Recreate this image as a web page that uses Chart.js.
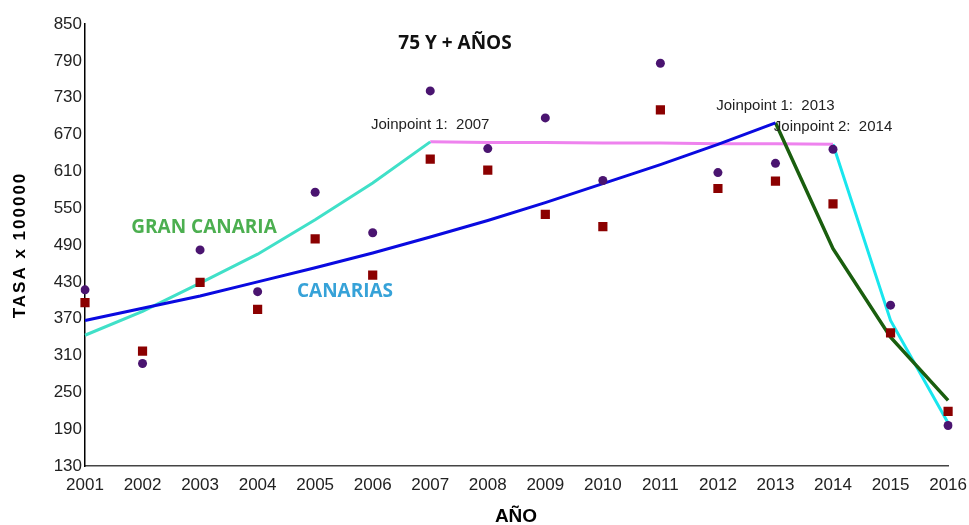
<!DOCTYPE html>
<html>
<head>
<meta charset="utf-8">
<script src="https://cdn.jsdelivr.net/npm/chart.js@4.4.0/dist/chart.umd.min.js"></script>
<style>
  html, body { margin: 0; padding: 0; background: #fff; }
  #wrap { width: 969px; height: 525px; }
</style>
</head>
<body>
<div id="wrap"><canvas class="mychart"></canvas></div>
<script>
// años
var years = ["2001","2002","2003","2004","2005","2006","2007","2008","2009","2010","2011","2012","2013","2014","2015","2016"];
// tasas observadas
var canariasObs = [417, 297, 482, 414, 576, 510, 741, 647, 697, 595, 786, 608, 623, 646, 392, 196];
var granCanariaObs = [396, 317, 429, 385, 500, 441, 630, 612, 540, 520, 710, 582, 594, 557, 347, 219];
// tendencias joinpoint
var blueTrend = [367, 387, 407, 430, 453, 477, 503, 530, 559, 590, 621, 654, 689, null, null, null];
var greenTrend = [null, null, null, null, null, null, null, null, null, null, null, null, 689, 484, 340, 237];
var turqTrend = [343, 382, 428, 475, 531, 591, 658, null, null, null, null, null, null, null, null, null];
var pinkTrend = [null, null, null, null, null, null, 658, 657, 657, 656, 656, 655, 655, 654, null, null];
var cyanTrend = [null, null, null, null, null, null, null, null, null, null, null, null, null, 654, 367, 200];
var yTicks = [130, 190, 250, 310, 370, 430, 490, 550, 610, 670, 730, 790, 850];

var notes = [
  { text: "Joinpoint 1:  2007", year: "2007", val: 658 },
  { text: "Joinpoint 1:  2013", year: "2013", val: 689 },
  { text: "Joinpoint 2:  2014", year: "2014", val: 654 }
];

function trend(data, color, w) {
  return {
    data: data,
    borderColor: color,
    borderWidth: w,
    pointRadius: 0,
    fill: false,
    tension: 0,
    spanGaps: false
  };
}

var textPlugin = {
  id: "texts",
  afterDraw: function(chart) {
    var c = chart.ctx;
    var xs = chart.scales.x, ys = chart.scales.y;
    c.save();
    c.textAlign = "center";
    c.textBaseline = "middle";

    c.fillStyle = "#111";
    c.font = "bold 19px 'Open Sans'";
    c.fillText("75 Y + AÑOS", 455, 44);

    c.fillStyle = "#4caf50";
    c.font = "bold 19px 'Open Sans'";
    c.fillText("GRAN CANARIA", 204, 228);

    c.fillStyle = "#36a2d8";
    c.fillText("CANARIAS", 345, 292);

    c.fillStyle = "#222";
    c.font = "15px 'Liberation Sans'";
    notes.forEach(function(n) {
      var px = xs.getPixelForValue(years.indexOf(n.year));
      var py = ys.getPixelForValue(n.val);
      c.fillText(n.text, px, py - 17);
    });

    c.fillStyle = "#000";
    c.font = "bold 19px 'Liberation Sans'";
    c.fillText("AÑO", 516, 517);

    c.translate(20, 245);
    c.rotate(-Math.PI / 2);
    c.font = "bold 17px 'Liberation Sans'";
    c.letterSpacing = "2px";
    c.fillText("TASA x 100000", 0, 0);
    c.restore();
  }
};

var ctx = document.querySelector(".mychart").getContext("2d");
var chart = new Chart(ctx, {
  type: "line",
  data: {
    labels: years,
    datasets: [
      {
        data: canariasObs,
        showLine: false,
        pointStyle: "circle",
        pointRadius: 4.5,
        pointBackgroundColor: "#4a1470",
        pointBorderWidth: 0
      },
      {
        data: granCanariaObs,
        showLine: false,
        pointStyle: "rect",
        pointRadius: 6.5,
        pointBackgroundColor: "#8b0000",
        pointBorderWidth: 0
      },
      trend(blueTrend, "#0a0ae0", 3),
      trend(greenTrend, "#1a5e0e", 3.5),
      trend(turqTrend, "#40e0c8", 3),
      trend(pinkTrend, "#ee82ee", 3),
      trend(cyanTrend, "#19e6ee", 3)
    ]
  },
  options: {
    responsive: true,
    maintainAspectRatio: false,
    animation: false,
    layout: { padding: { left: 0, top: 24, right: 13, bottom: 0 } },
    plugins: {
      legend: { display: false },
      tooltip: { enabled: false }
    },
    scales: {
      x: {
        offset: false,
        grid: { display: false, drawTicks: false },
        border: { display: true, color: "#444", width: 1.5 },
        ticks: {
          color: "#222",
          font: { size: 17, family: "'Liberation Sans'", lineHeight: 2 },
          padding: 2,
          maxRotation: 0,
          autoSkip: false
        },
        afterFit: function(scale) { scale.height = 59; }
      },
      y: {
        min: 130,
        max: 850,
        afterBuildTicks: function(scale) {
          scale.ticks = yTicks.map(function(v) { return { value: v }; });
        },
        grid: { display: false, drawTicks: false },
        border: { display: true, color: "#000", width: 1.5 },
        ticks: {
          color: "#222",
          font: { size: 17, family: "'Liberation Sans'" },
          padding: 3
        },
        afterFit: function(scale) { scale.width = 85; }
      }
    }
  },
  plugins: [textPlugin]
});
</script>
</body>
</html>
